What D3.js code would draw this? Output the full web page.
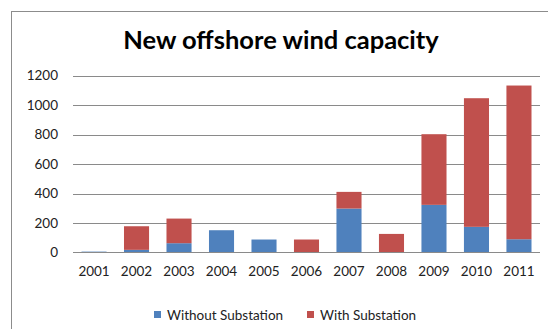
<!DOCTYPE html>
<html><head><meta charset="utf-8">
<script src="https://cdn.jsdelivr.net/npm/d3@7"></script>
<style>body{margin:0;background:#fff}svg{display:block}</style>
</head><body>
<svg id="c" width="548" height="329"></svg>
<script>
const years = ["2001","2002","2003","2004","2005","2006","2007","2008","2009","2010","2011"];
const withoutSub = [6, 18, 63, 151, 88, 0, 298, 0, 323, 174, 90];
const withSub = [0, 160, 167, 0, 0, 88, 113, 126, 479, 872, 1042];
const yTicks = [0, 200, 400, 600, 800, 1000, 1200];
const seriesNames = ["Without Substation", "With Substation"];
const colors = ["#4F81BD", "#C0504D"];

const svg = d3.select("#c");
const font = "Lato, 'Open Sans', sans-serif";
svg.append("rect").attr("x", 11.5).attr("y", 11.5).attr("width", 560).attr("height", 340)
  .attr("fill", "#fff").attr("stroke", "#8c8c8c").attr("stroke-width", 1);

const x = d3.scaleBand().domain(years).range([73, 540]).paddingInner(0.41).paddingOuter(0.2);
const y = d3.scaleLinear().domain([0, 1200]).range([252.5, 75.5]);

const yAxis = d3.axisLeft(y).tickValues(yTicks).tickFormat(d3.format("d")).tickSize(0).tickPadding(15);
const gy = svg.append("g").attr("transform", "translate(73,0)").call(yAxis);
gy.select(".domain").remove();
gy.selectAll("text").attr("font-family", font).attr("font-size", 13.5).attr("fill", "#222");

svg.append("g").selectAll("line").data(yTicks.filter(d => d > 0)).join("line")
  .attr("x1", 73).attr("x2", 540).attr("y1", d => Math.round(y(d)) + 0.5).attr("y2", d => Math.round(y(d)) + 0.5)
  .attr("stroke", "#8a8a8a").attr("stroke-width", 1);

const data = years.map((yr, i) => ({year: yr, a: withoutSub[i], b: withSub[i]}));
const stack = d3.stack().keys(["a", "b"])(data);
svg.append("g").selectAll("g").data(stack).join("g").attr("fill", (d, i) => colors[i])
  .selectAll("rect").data(d => d).join("rect")
  .attr("x", d => x(d.data.year)).attr("width", x.bandwidth())
  .attr("y", d => y(d[1])).attr("height", d => y(d[0]) - y(d[1]));

svg.append("line").attr("x1", 73).attr("x2", 540).attr("y1", 252.5).attr("y2", 252.5)
  .attr("stroke", "#8a8a8a");

const xAxis = d3.axisBottom(x).tickSize(0).tickPadding(14);
const gx = svg.append("g").attr("transform", "translate(0,252.5)").call(xAxis);
gx.select(".domain").remove();
gx.selectAll("text").attr("font-family", font).attr("font-size", 13.5).attr("fill", "#222");

svg.append("text").attr("x", 281).attr("y", 49).attr("text-anchor", "middle")
  .attr("font-family", font).attr("font-weight", "bold").attr("font-size", 25.5).attr("fill", "#000")
  .text("New offshore wind capacity");

const legX = [154, 307];
seriesNames.forEach((n, i) => {
  svg.append("rect").attr("x", legX[i]).attr("y", 311).attr("width", 7).attr("height", 7).attr("fill", colors[i]);
  svg.append("text").attr("x", legX[i] + 13).attr("y", 320).attr("font-family", font)
    .attr("font-size", 13.5).attr("fill", "#222").text(n);
});
</script>
</body></html>
